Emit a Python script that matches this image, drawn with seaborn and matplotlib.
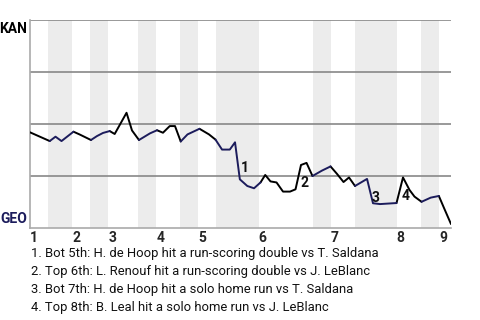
import matplotlib
matplotlib.use("Agg")
import matplotlib.pyplot as plt
import seaborn as sns
import pandas as pd
import numpy as np

# ---- data ----
# play index (x) and KAN win probability (y)
play_x = [0.0, 3.28, 4.24, 5.24, 7.23, 8.23, 10.14, 11.14, 12.14, 13.25, 14.08, 16.05,
          16.96, 18.12, 19.95, 21.12, 22.11, 23.23, 24.11, 25.06, 26.19, 28.18, 29.76,
          30.84, 31.93, 33.22, 34.09, 34.89, 36.13, 37.25, 38.33, 39.11, 39.99, 40.99,
          42.07, 43.23, 44.15, 45.06, 45.98, 46.97, 48.55, 49.97, 51.05, 52.13, 53.04,
          54.04, 55.04, 56.04, 57.03, 58.20, 60.94, 62.02, 63.10, 63.93, 65.10, 66.63,
          67.98, 68.84, 70.0]
kan_wp = [0.460, 0.418, 0.439, 0.418, 0.463, 0.450, 0.423, 0.442, 0.457, 0.466, 0.452, 0.554,
          0.469, 0.423, 0.455, 0.470, 0.458, 0.490, 0.490, 0.416, 0.450, 0.477, 0.450,
          0.425, 0.377, 0.377, 0.412, 0.234, 0.202, 0.191, 0.219, 0.255, 0.224, 0.219,
          0.175, 0.175, 0.186, 0.303, 0.313, 0.250, 0.276, 0.296, 0.260, 0.221, 0.243,
          0.202, 0.219, 0.236, 0.119, 0.115, 0.120, 0.243, 0.183, 0.151, 0.126, 0.146,
          0.154, 0.096, 0.019]

# half-inning boundaries (play index)
half_bounds = [0, 3, 7, 10, 13, 18, 21, 25, 28, 31, 38, 47, 50, 54, 61, 65, 68, 70]
inning_labels = ["1", "2", "3", "4", "5", "6", "7", "8", "9"]

event_labels = ["1", "2", "3", "4"]
event_x = [35.0, 44.9, 56.75, 61.74]
event_y = [0.288, 0.215, 0.145, 0.152]

notes = [
    "1. Bot 5th: H. de Hoop hit a run-scoring double vs T. Saldana",
    "2. Top 6th: L. Renouf hit a run-scoring double vs J. LeBlanc",
    "3. Bot 7th: H. de Hoop hit a solo home run vs T. Saldana",
    "4. Top 8th: B. Leal hit a solo home run vs J. LeBlanc",
]

team_top = "KAN"
team_bottom = "GEO"
col_kan = "#000000"
col_geo = "#1c1c5c"

# ---- build segment runs coloured by batting team ----
rows = []
run = 0
prev_team = None
for i in range(len(play_x) - 1):
    mid = (play_x[i] + play_x[i + 1]) / 2
    hidx = int(np.searchsorted(half_bounds, mid, side="right") - 1)
    team = team_top if hidx % 2 == 0 else team_bottom
    if team != prev_team:
        run += 1
        rows.append({"x": play_x[i], "y": kan_wp[i], "team": team, "run": run})
        prev_team = team
    rows.append({"x": play_x[i + 1], "y": kan_wp[i + 1], "team": team, "run": run})
df = pd.DataFrame(rows)

sns.set_theme(style="white")
plt.rcParams["font.family"] = ["Roboto", "DejaVu Sans"]

fig = plt.figure(figsize=(4.8, 3.2), dpi=100)
ax = fig.add_axes([30 / 480, 1 - 228 / 320, 421 / 480, 208 / 320])

# alternating half-inning bands (bottom halves shaded)
for k in range(1, len(half_bounds) - 1, 2):
    ax.axvspan(half_bounds[k], half_bounds[k + 1], color="#ececec", lw=0, zorder=0)

for gy in [0.25, 0.5, 0.75, 1.0]:
    ax.axhline(gy, color="#888888", lw=1.2, zorder=1)

sns.lineplot(data=df, x="x", y="y", hue="team", units="run", estimator=None,
             sort=False, palette={team_top: col_kan, team_bottom: col_geo},
             lw=1.4, legend=False, ax=ax, zorder=3)

ax.set_xlim(half_bounds[0], half_bounds[-1])
ax.set_ylim(0, 1)
ax.set_xlabel("")
ax.set_ylabel("")
ax.set_yticks([])

inning_starts = [half_bounds[0]] + [half_bounds[k] for k in range(2, len(half_bounds) - 1, 2)]
ax.set_xticks(inning_starts)
ax.set_xticklabels(inning_labels, fontweight="bold", fontsize=10, ha="left")
ax.tick_params(axis="x", length=0, pad=2)

for s in ["top", "right"]:
    ax.spines[s].set_visible(False)
for s in ["left", "bottom"]:
    ax.spines[s].set_color("#aaaaaa")
    ax.spines[s].set_linewidth(1.2)

ax.text(-0.007, 0.99, team_top, transform=ax.transAxes, ha="right", va="top",
        fontsize=10, fontweight="bold", color=col_kan)
ax.text(-0.007, 0.01, team_bottom, transform=ax.transAxes, ha="right", va="bottom",
        fontsize=10, fontweight="bold", color=col_geo)

for lab, ex, ey in zip(event_labels, event_x, event_y):
    ax.text(ex, ey, lab, ha="left", va="center", fontsize=10, fontweight="bold",
            color="#111111", zorder=4)

for i, note in enumerate(notes):
    fig.text(31 / 480, 1 - (254 + i * 17.7) / 320, note, ha="left", va="center",
             fontsize=9.4, color="#111111")

fig.savefig("out.png", dpi=100)
